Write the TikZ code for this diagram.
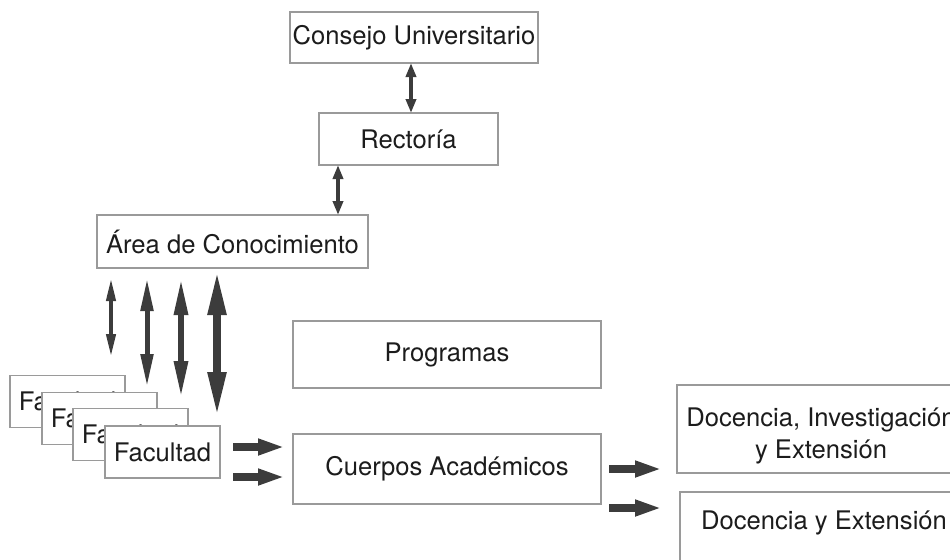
\documentclass[tikz,border=0pt]{standalone}
\usepackage{fontspec}
\setmainfont{TeX Gyre Heros}
\usetikzlibrary{arrows.meta}

\definecolor{inkgray}{HTML}{3C3C3C}
\definecolor{boxgray}{HTML}{9A9A9A}
\definecolor{txtblack}{HTML}{1C1C1C}

\begin{document}
\begin{tikzpicture}[x=0.5pt, y=-0.5pt]
  \tikzset{orgbox/.style={draw=boxgray, line width=0.6pt, fill=white, inner sep=0pt, outer sep=0pt,
                          text=txtblack, font=\fontsize{12.8}{16}\selectfont, align=center},
           boxtext/.style={text=txtblack, font=\fontsize{12.8}{16}\selectfont, align=center},
           dblarrow/.style n args={3}{draw=inkgray, line width=#1,
                          arrows={Triangle[length=#2,width=#3]-Triangle[length=#2,width=#3]}},
           fwdarrow/.style={draw=inkgray, line width=4pt, arrows={-Triangle[length=13.5pt,width=7.5pt]}}}
  \useasboundingbox (0,0) rectangle (950,559);
  % upper hierarchy
  \node[orgbox, minimum width=124pt, minimum height=25.5pt] (consejo) at (414,37.5) {Consejo Universitario};
  \node[orgbox, minimum width=89.5pt, minimum height=26pt] (rectoria) at (408.5,139) {Rectoría};
  \node[orgbox, minimum width=135.5pt, minimum height=26.5pt] (area) at (232.5,241.5) {Área de Conocimiento};
  % middle boxes
  \node[orgbox, minimum width=154pt, minimum height=33.5pt] (programas) at (447,354.5) {Programas};
  \node[orgbox, minimum width=154pt, minimum height=35pt] (cuerpos) at (447,469) {Cuerpos Académicos};
  % stacked faculties
  \foreach \i/\cx/\cy in {1/67.5/401.5, 2/99.5/418.5, 3/130.5/434.5, 4/162.5/452}
    \node[orgbox, minimum width=57.5pt, minimum height=26pt] (fac\i) at (\cx,\cy) {Facultad};
  % right boxes (run off the page)
  \node[orgbox, minimum width=144pt, minimum height=44pt,
        label={[boxtext, yshift=-3.25pt]center:Docencia, Investigación\\y Extensión}] (docA) at (821,429) {};
  \node[orgbox, minimum width=144pt, minimum height=44pt,
        label={[boxtext, yshift=6.5pt]center:Docencia y Extensión}] (docB) at (824,536) {};

  % connectors
  \draw[dblarrow={2pt}{7pt}{5pt}] ([xshift=-1.5pt]consejo.south) -- ([xshift=1.25pt]rectoria.north);
  \draw[dblarrow={2pt}{7pt}{5pt}] ([xshift=-35.25pt]rectoria.south) -- ([xshift=52.75pt]area.north);
  \foreach \dx/\ya/\yb/\lw/\hl/\hw in {14/10/89/2/11.5/4.5, 50/10/119/2.5/16.5/6,
                                       84/10/130/3/18.5/6.5, 120/2/149/4/22.5/8.5}
    \draw[dblarrow={\lw pt}{\hl pt}{\hw pt}] ([shift={(\dx,\ya)}]area.south west) -- ([shift={(\dx,\yb)}]area.south west);
  \draw[fwdarrow] ([xshift=6.5pt,yshift=2.5pt]fac4.east) -- ([xshift=-4pt,yshift=11pt]cuerpos.west);
  \draw[fwdarrow] ([xshift=6.5pt,yshift=-12.5pt]fac4.east) -- ([xshift=-4pt,yshift=-4pt]cuerpos.west);
  \draw[fwdarrow] ([xshift=4pt]cuerpos.east) -- ([xshift=-7.5pt,yshift=-20pt]docA.west);
  \draw[fwdarrow] ([xshift=4pt,yshift=-19.5pt]cuerpos.east) -- ([xshift=-9pt,yshift=14pt]docB.west);
\end{tikzpicture}
\end{document}
